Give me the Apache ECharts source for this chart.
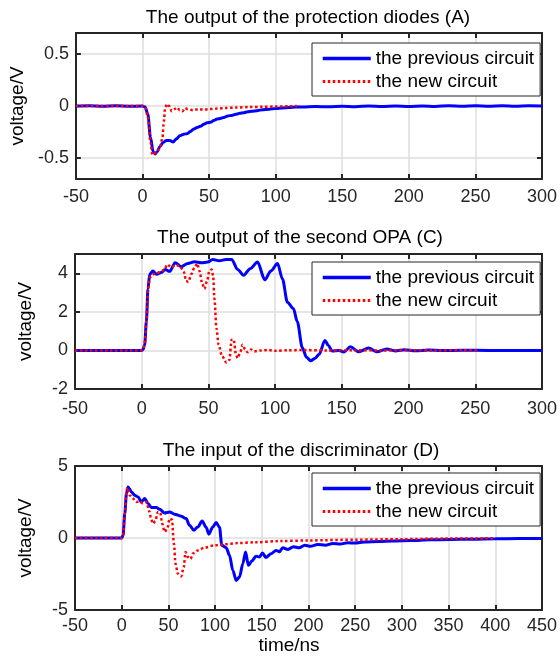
<!DOCTYPE html>
<html><head><meta charset="utf-8">
<script src="https://cdn.jsdelivr.net/npm/echarts@6/dist/echarts.min.js"></script>
<style>html,body{margin:0;padding:0;background:#fff}#c{width:560px;height:657px}</style>
</head><body><div id="c"></div><script>
const FONT = '"Liberation Sans", Arial, Helvetica, sans-serif';
const seriesNames = ['the previous circuit', 'the new circuit'];
const panelTitles = ['The output of the protection diodes (A)', 'The output of the second OPA (C)', 'The input of the discriminator (D)'];
const yAxisTitle = 'voltage/V';
const xAxisTitle = 'time/ns';

// x ranges [min, max, step]
const xRange1 = [-50, 300, 50];
const xRange2 = [-50, 300, 50];
const xRange3 = [-50, 450, 50];
// y ranges and tick values
const yRange1 = [-0.7, 0.7];
const yRange2 = [-2, 5];
const yRange3 = [-5, 5];
const yTicks1 = [-0.5, 0, 0.5];
const yTicks2 = [-2, 0, 2, 4];
const yTicks3 = [-5, 0, 5];

// Panel A
const p1PrevT = [-50,-40,-30,-20,-10,0,2,4,6,8,9.5,11,13,15.5,18,20.5,23,25.5,28,31,33.5,36,38.5,41,43.5,46,48.5,51,53.5,56,58.5,61,64,67,70,73,76,79,82,86,90,95,100,105,110,115,120,130,140,150,160,170,180,190,200,210,220,230,240,250,260,270,280,290,300];
const p1PrevV = [0,0.003,-0.003,0.003,-0.003,0,-0.01,-0.08,-0.3,-0.44,-0.46,-0.44,-0.39,-0.35,-0.33,-0.33,-0.345,-0.315,-0.285,-0.27,-0.265,-0.245,-0.22,-0.205,-0.195,-0.175,-0.16,-0.155,-0.14,-0.125,-0.12,-0.11,-0.095,-0.09,-0.08,-0.07,-0.065,-0.055,-0.05,-0.045,-0.035,-0.03,-0.025,-0.018,-0.015,-0.01,-0.01,-0.005,-0.008,-0.002,-0.006,0,-0.005,0.001,-0.004,0.001,-0.004,0.002,-0.003,0.002,-0.003,0.002,-0.003,0.002,0];
const p1NewT = [-50,-40,-30,-20,-10,0,2,4,6,7.5,9,10.5,12,13.5,15,16,17,18.5,20,22,24,26,28,30,32,34,38,42,46,50,56,62,70,80,90,100,110,116];
const p1NewV = [0,0,0,0,0,0,-0.01,-0.1,-0.35,-0.47,-0.46,-0.44,-0.42,-0.38,-0.3,-0.15,-0.02,0.02,0,-0.05,-0.03,-0.015,-0.04,-0.05,-0.02,-0.03,-0.04,-0.03,-0.035,-0.03,-0.025,-0.02,-0.015,-0.01,-0.008,-0.005,-0.003,0];

// Panel C
const p2PrevT = [-50,-25,0,1,2.2,3.5,4.7,6,8.4,11,14.7,17.7,20.9,25.1,29.6,34.6,39.6,44.6,49.5,53.2,58.2,63.2,67.4,71.9,76.4,81.3,86.8,92.3,96.8,101.8,105.5,109.2,113.7,116.6,120.4,123.5,126.6,130,133,137.3,140,142.7,147.7,151.5,156.4,162.7,170.1,176.3,183.7,190,197,205,215,225,240,260,280,300];
const p2PrevV = [0,0,0,0.05,0.3,1.5,3.2,3.95,4.12,3.95,4.04,4.2,4.1,4.55,4.34,4.51,4.6,4.55,4.58,4.72,4.65,4.72,4.72,4.2,3.9,4.24,4.58,3.66,4.12,4.51,3.7,2.5,2.17,1.49,0.14,-0.35,-0.54,-0.4,-0.2,0.52,0.25,-0.03,0.0,-0.08,0.19,-0.07,0.12,-0.07,0.08,-0.03,0.04,-0.02,0.02,-0.01,0.01,0,0,0];
const p2NewT = [-50,-25,0,1,2.2,3.5,4.7,6,8.4,11,14.7,17,19.2,22.3,24.8,28.5,31.6,33.3,35,37.1,39.6,41.6,43.3,45.4,47,49,50.7,52.5,53.5,54.5,56,57.6,60.2,63.5,65.7,67.4,68.9,70.6,71.9,73.9,75.6,77.5,79.4,81.9,84.4,89.4,95,100,110,120,140,160,180,200,220,240,253];
const p2NewV = [0,0,0,0.05,0.3,1.5,3.1,3.78,3.95,4.0,4.1,4.2,4.46,4.3,4.4,4.4,4.07,3.6,3.55,3.95,4.3,4.51,4.12,3.45,3.19,3.6,4.12,4.2,3.87,2.68,1.15,0.3,-0.29,-0.63,-0.5,0.56,0.56,-0.2,-0.4,-0.08,0.3,0.05,-0.1,0.05,-0.05,0,0.02,-0.02,0.01,0.02,0,0.01,0,0.01,0,0.01,0];

// Panel D
const p3PrevT = [-50,-25,0,1.5,3.3,5.1,6.8,8.5,10.4,13.9,17.5,21,24.6,28.2,31.7,37,40.6,45.9,51.3,56.6,63.7,69,72.6,77.2,81.5,86.1,90.4,93.3,97.5,101.1,104.7,107.2,111.9,115.4,119,122.6,126.2,129.7,132.6,135.7,139.3,143.8,147.4,150.8,154.3,160,165.3,168.9,172.4,178,184,190,196,202,210,218,226,234,242,250,260,275,290,310,330,350,375,400,425,450];
const p3PrevV = [0,0,0,0.19,1.7,3.09,3.55,3.4,3.2,2.97,2.85,2.5,2.74,2.4,2.12,2.12,1.99,1.74,1.81,1.65,1.51,1.35,0.88,0.54,0.77,1.18,0.75,0.26,0.77,1.07,0.75,-0.51,-0.67,-1.2,-2.25,-2.95,-2.7,-1.78,-0.97,-1.9,-1.6,-1.27,-1.32,-1.04,-1.35,-1.09,-0.86,-0.95,-0.67,-0.8,-0.6,-0.68,-0.5,-0.58,-0.45,-0.5,-0.38,-0.42,-0.33,-0.35,-0.28,-0.25,-0.2,-0.17,-0.13,-0.1,-0.08,-0.05,-0.04,-0.03];
const p3NewT = [-50,-25,0,1.5,3.3,5.1,6,8.6,12.1,15.7,19.2,22.8,26.3,29.9,31.5,33.5,35.9,38.8,41.3,43.4,45.9,48.8,51.3,53.8,55.9,57.6,60.1,63.7,66.5,68.3,70.8,73.7,76.2,81.5,88.6,99.3,110,124.2,142,170,200,250,300,350,400];
const p3NewV = [0,0,0,0.19,1.7,3.2,3.5,2.97,2.74,2.5,2.55,2.4,2.5,1.81,1.3,1.0,1.16,1.81,1.75,1.0,0.42,0.65,1.35,1.28,-0.39,-1.78,-2.48,-2.67,-2.02,-0.97,-1.32,-1.46,-1.08,-0.86,-0.67,-0.51,-0.44,-0.35,-0.3,-0.21,-0.17,-0.12,-0.08,-0.04,-0.02];

function zip(t, v) { return t.map((x, i) => [x, v[i]]); }

const AX = '#262626';
const GRIDC = '#dedede';
const BLUE = '#0000ff';
const RED = '#ff0000';
const DOTS = [2.5, 2.5];
const grids = [
  { left: 71, top: 33, width: 473, height: 146 },
  { left: 75, top: 254, width: 469, height: 135 },
  { left: 75, top: 466, width: 469, height: 144 }
];
const xRanges = [xRange1, xRange2, xRange3];
const yRanges = [yRange1, yRange2, yRange3];
const yTickSets = [yTicks1, yTicks2, yTicks3];
const yNameGaps = [36, 40, 40];
const xLabelMargins = [9, 11, 7];

const xAxes = [], yAxes = [];
for (let g = 0; g < 3; g++) {
  const xr = xRanges[g];
  const base = {
    type: 'value', gridIndex: g, min: xr[0], max: xr[1], interval: xr[2],
    axisLine: { show: true, onZero: false, lineStyle: { color: AX, width: 2 } },
    axisTick: { show: true, inside: true, length: 5, lineStyle: { color: AX, width: 2 } }
  };
  xAxes.push(Object.assign({}, base, {
    position: 'bottom',
    splitLine: { show: true, lineStyle: { color: GRIDC, width: 1.5 } },
    axisLabel: { show: true, color: AX, fontSize: 18, fontFamily: FONT, margin: xLabelMargins[g] }
  }));
  xAxes.push(Object.assign({}, base, {
    position: 'top', splitLine: { show: false }, axisLabel: { show: false }
  }));
  const yr = yRanges[g];
  const yb = {
    type: 'value', gridIndex: g, min: yr[0], max: yr[1],
    axisLine: { show: true, onZero: false, lineStyle: { color: AX, width: 2 } },
    axisTick: { show: true, inside: true, length: 5, customValues: yTickSets[g], lineStyle: { color: AX, width: 2 } }
  };
  yAxes.push(Object.assign({}, yb, {
    position: 'left',
    name: yAxisTitle, nameLocation: 'middle', nameGap: yNameGaps[g],
    nameTextStyle: { color: '#000', fontSize: 19, fontFamily: FONT },
    splitLine: { show: true, lineStyle: { color: GRIDC, width: 1.5 } },
    axisLabel: { show: true, color: AX, fontSize: 18, fontFamily: FONT, margin: 7, customValues: yTickSets[g],
      formatter: v => String(Math.round(v * 100) / 100) }
  }));
  yAxes.push(Object.assign({}, yb, {
    position: 'right', splitLine: { show: false }, axisLabel: { show: false }
  }));
}

const panelData = [
  [zip(p1PrevT, p1PrevV), zip(p1NewT, p1NewV)],
  [zip(p2PrevT, p2PrevV), zip(p2NewT, p2NewV)],
  [zip(p3PrevT, p3PrevV), zip(p3NewT, p3NewV)]
];
const series = [];
for (let g = 0; g < 3; g++) {
  series.push({
    type: 'line', name: seriesNames[0], xAxisIndex: 2 * g, yAxisIndex: 2 * g,
    data: panelData[g][0], symbol: 'none', showSymbol: false, smooth: 0.3, smoothMonotone: 'x',
    lineStyle: { color: BLUE, width: 3 }, itemStyle: { color: BLUE }, z: 3
  });
  series.push({
    type: 'line', name: seriesNames[1], xAxisIndex: 2 * g, yAxisIndex: 2 * g,
    data: panelData[g][1], symbol: 'none', showSymbol: false, smooth: 0.3, smoothMonotone: 'x',
    lineStyle: { color: RED, width: 2.5, type: DOTS, cap: 'butt' }, itemStyle: { color: RED }, z: 4
  });
}

const legendTops = [43, 262, 473];
const legends = legendTops.map(t => ({
  orient: 'vertical', left: 312, top: t,
  data: [
    { name: seriesNames[0], lineStyle: { color: BLUE, width: 3.5, type: 'solid' } },
    { name: seriesNames[1], lineStyle: { color: RED, width: 2.8, type: DOTS } }
  ],
  itemWidth: 48, itemHeight: 14, itemGap: 4,
  padding: [6, 6, 5, 9], borderColor: AX, borderWidth: 1, backgroundColor: '#fff',
  itemStyle: { opacity: 0 },
  textStyle: { color: '#000', fontSize: 19, fontFamily: FONT, lineHeight: 19 },
  selectedMode: false
}));

const titleSpecs = [
  { text: panelTitles[0], left: 308, top: 8 },
  { text: panelTitles[1], left: 300, top: 228 },
  { text: panelTitles[2], left: 301, top: 441 },
  { text: xAxisTitle, left: 289, top: 636 }
];
const titles = titleSpecs.map(s => ({
  text: s.text, left: s.left, top: s.top, textAlign: 'center', padding: 0,
  textStyle: { color: '#000', fontSize: 19, fontWeight: 'normal', fontFamily: FONT }
}));

const chart = echarts.init(document.getElementById('c'), null, { renderer: 'canvas' });
chart.setOption({
  backgroundColor: '#fff',
  animation: false,
  title: titles,
  legend: legends,
  grid: grids,
  xAxis: xAxes,
  yAxis: yAxes,
  series: series
});
</script></body></html>
